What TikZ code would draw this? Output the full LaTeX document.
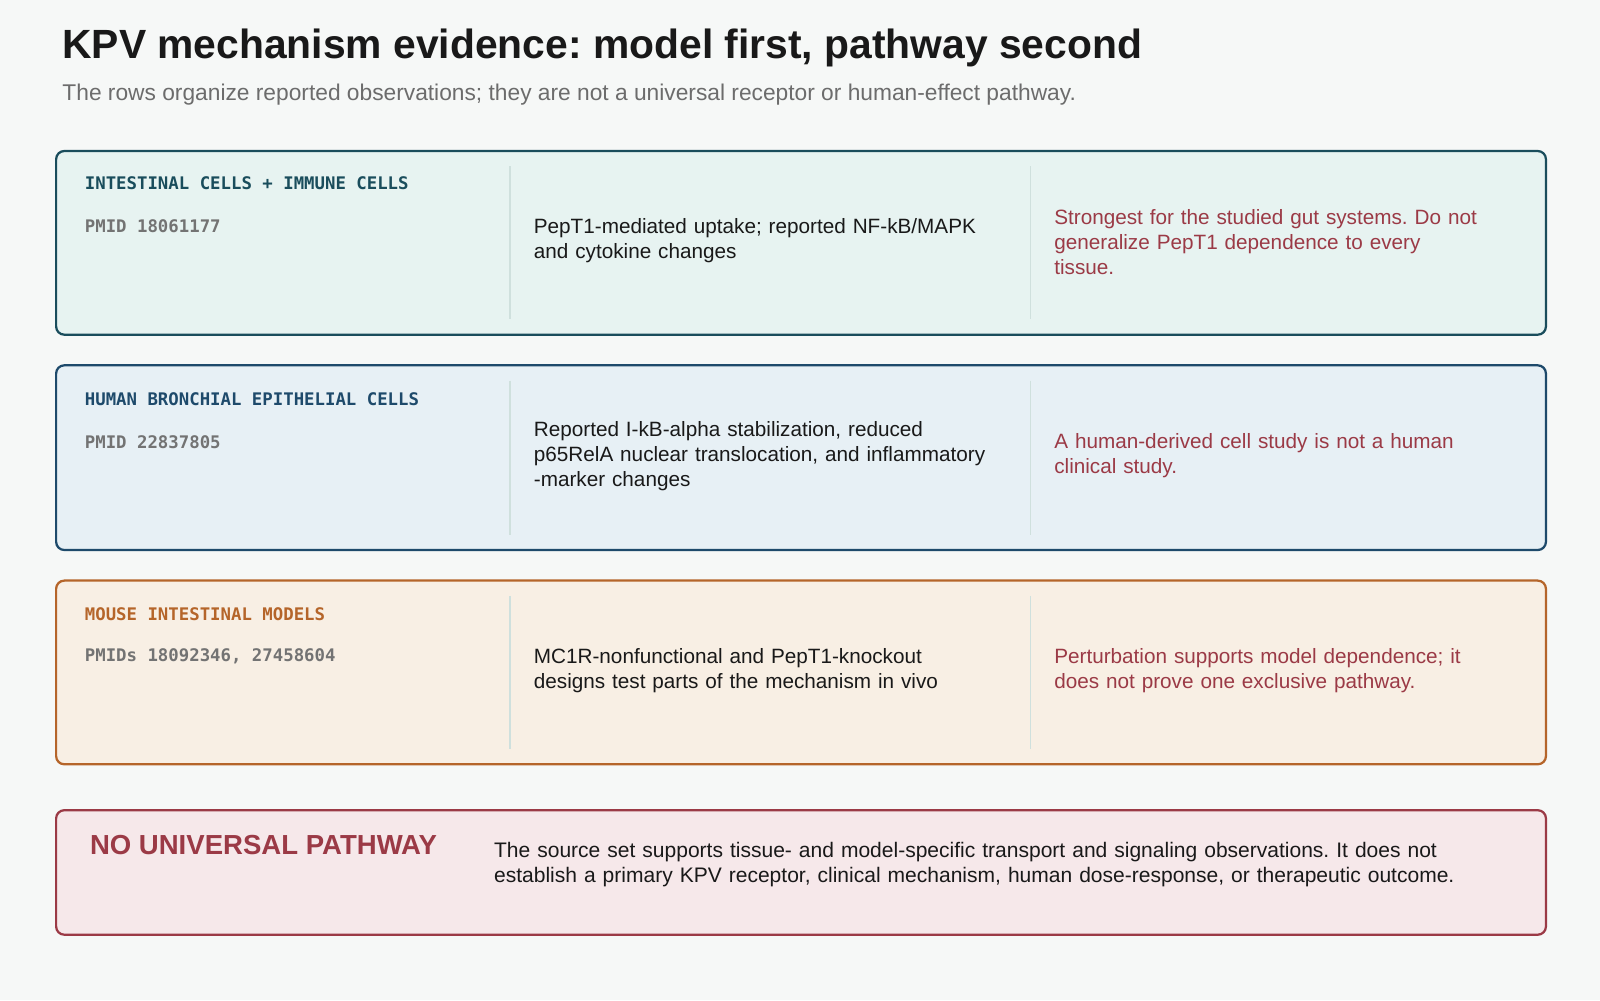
\documentclass[tikz,border=0pt]{standalone}
\usepackage{fontspec}
\setmainfont{Liberation Sans}
\newfontfamily\monof{DejaVu Sans Mono}
\frenchspacing
\begin{document}
\begin{tikzpicture}[x=1pt,y=-1pt,
  row/.style={rounded corners=8pt,line width=2.2pt},
  lab/.style={anchor=west,font=\monof\bfseries\fontsize{17}{20}\selectfont},
  pmid/.style={anchor=west,font=\monof\bfseries\fontsize{17}{20}\selectfont,text=gray!90!black,inner sep=0},
  mid/.style={anchor=west,text width=470pt,align=left,font=\fontsize{20.3}{24.5}\selectfont,text=black!90,inner sep=0},
  rt/.style={anchor=west,text width=460pt,align=left,font=\fontsize{20.3}{24.5}\selectfont,text=myred,inner sep=0}]
\definecolor{bg}{HTML}{F6F8F7}
\definecolor{myred}{HTML}{9B3A46}
\definecolor{bA}{HTML}{1A4D5C}\definecolor{fA}{HTML}{E7F3F1}
\definecolor{bB}{HTML}{1E4A6B}\definecolor{fB}{HTML}{E7F0F5}
\definecolor{bC}{HTML}{B5652A}\definecolor{fC}{HTML}{F8EFE4}
\definecolor{fD}{HTML}{F6E8EA}
\definecolor{dv}{HTML}{CFE0DD}
\tikzset{div/.style={draw=dv,line width=1.5pt}}
\fill[bg] (0,0) rectangle (1568,980);
\useasboundingbox (0,0) rectangle (1568,980);
\node[anchor=west,inner sep=0,font=\bfseries\fontsize{40}{46}\selectfont,text=black!90] (title) at (61,47) {KPV mechanism evidence: model first, pathway second};
\node[anchor=west,inner sep=0,font=\fontsize{22.3}{26}\selectfont,text=gray!85!black] (sub) at (61,93) {The rows organize reported observations; they are not a universal receptor or human-effect pathway.};
% row 1
\draw[row,draw=bA,fill=fA] (55,148) rectangle (1515,328);
\draw[div] (500,163) -- (500,313); \draw[div] (1010,163) -- (1010,313);
\node[lab,text=bA,inner sep=0] (l1) at (83,180) {INTESTINAL CELLS + IMMUNE CELLS};
\node[pmid] (p1) at (83,222) {PMID 18061177};
\node[mid] (m1) at (523,236) {PepT1-mediated uptake; reported NF-kB/MAPK\\and cytokine changes};
\node[rt] (r1) at (1033,237) {Strongest for the studied gut systems. Do not\\generalize PepT1 dependence to every\\tissue.};
% row 2
\draw[row,draw=bB,fill=fB] (55,358) rectangle (1515,539);
\draw[div] (500,373) -- (500,524); \draw[div] (1010,373) -- (1010,524);
\node[lab,text=bB,inner sep=0] (l2) at (83,391) {HUMAN BRONCHIAL EPITHELIAL CELLS};
\node[pmid] (p2) at (83,433) {PMID 22837805};
\node[mid] (m2) at (523,447) {Reported I-kB-alpha stabilization, reduced\\p65RelA nuclear translocation, and inflammatory\\-marker changes};
\node[rt] (r2) at (1033,447) {A human-derived cell study is not a human\\clinical study.};
% row 3
\draw[row,draw=bC,fill=fC] (55,569) rectangle (1515,749);
\draw[div] (500,584) -- (500,734); \draw[div] (1010,584) -- (1010,734);
\node[lab,text=bC,inner sep=0] (l3) at (83,602) {MOUSE INTESTINAL MODELS};
\node[pmid] (p3) at (83,643) {PMIDs 18092346, 27458604};
\node[mid] (m3) at (523,657) {MC1R-nonfunctional and PepT1-knockout\\designs test parts of the mechanism in vivo};
\node[rt] (r3) at (1033,657) {Perturbation supports model dependence; it\\does not prove one exclusive pathway.};
% bottom
\draw[row,draw=myred,fill=fD] (55,794) rectangle (1515,916);
\node[anchor=west,inner sep=0,font=\bfseries\fontsize{27}{32}\selectfont,text=myred] (nu) at (88,828) {NO UNIVERSAL PATHWAY};
\node[anchor=west,inner sep=0,text width=1010pt,align=left,font=\fontsize{20.6}{24.5}\selectfont,text=black!90] (bt) at (484,847) {The source set supports tissue- and model-specific transport and signaling observations. It does not\\establish a primary KPV receptor, clinical mechanism, human dose-response, or therapeutic outcome.};
\end{tikzpicture}
\end{document}
